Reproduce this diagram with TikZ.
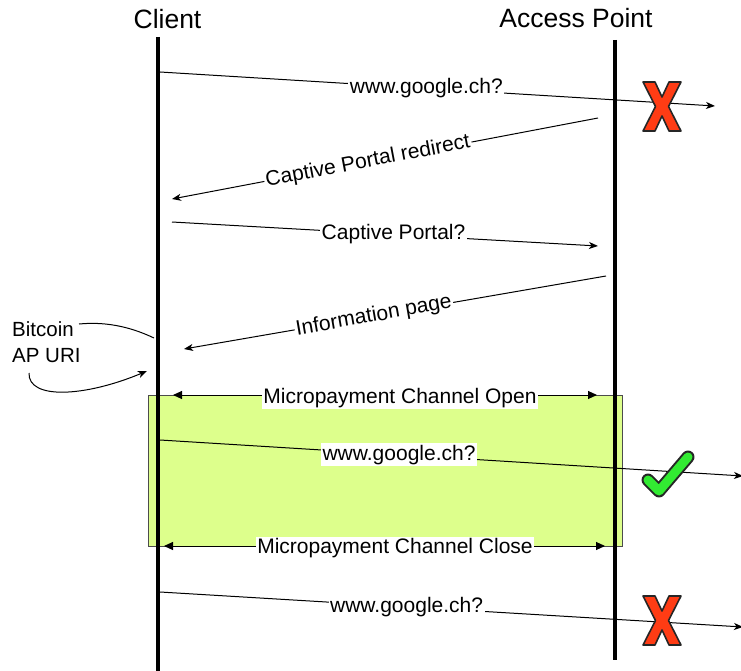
\documentclass[tikz,border=0pt]{standalone}
\usepackage{fontspec}
\setmainfont{Liberation Sans}
\usetikzlibrary{arrows.meta}
\definecolor{boxgreen}{RGB}{221,255,140}
\definecolor{xred}{RGB}{255,60,20}
\definecolor{ckgreen}{RGB}{50,235,50}
\begin{document}
\begin{tikzpicture}[x=1pt,y=-1pt,
  msg/.style={line width=1pt, -{Stealth[length=9pt,width=7pt,inset=2.5pt]}},
  lbl/.style={fill=white, inner sep=1.5pt, font=\fontsize{21}{24}\selectfont},
  head/.style={font=\fontsize{26.5}{30}\selectfont, inner sep=0pt, anchor=base},
  life/.style={line width=4pt},
  pay/.style={line width=1pt, {Triangle[length=9pt,width=8pt]}-{Triangle[length=9pt,width=8pt]}},
  note/.style={font=\fontsize{20.5}{24}\selectfont, inner sep=0pt, anchor=base west},
  redx/.pic={
    \fill[xred, draw=black!85, line width=1.6pt, line join=round]
      (0,0) -- (12,0) -- (19,15) -- (26,0) -- (38,0) -- (25.5,24.5) -- (38,49)
      -- (26,49) -- (19,34) -- (12,49) -- (0,49) -- (12.5,24.5) -- cycle;
  },
  greencheck/.pic={
    \draw[line width=13pt, black!85, line cap=round, line join=round]
      (5,29) -- (16,40) -- (45,6);
    \draw[line width=9pt, ckgreen, line cap=round, line join=round]
      (5,29) -- (16,40) -- (45,6);
  }
]
\useasboundingbox (0,0) rectangle (741,671);

% channel box
\node[fill=boxgreen, draw=black!70, line width=0.8pt, minimum width=474pt,
      minimum height=151pt, anchor=north west, inner sep=0pt] (chan) at (148,395) {};

% headings
\node[head] (client) at (167.5,29) {Client};
\node[head] (ap) at (576,28) {Access Point};

% lifelines
\coordinate (c0) at (158,37); \coordinate (c1) at (158,671);
\coordinate (a0) at (615,40); \coordinate (a1) at (615,660);
\draw[life] (c0) -- (c1);
\draw[life] (a0) -- (a1);

% messages
\coordinate (m1s) at (160,72);  \coordinate (m1e) at (715,106);
\draw[msg] (m1s) -- node[lbl,pos=0.48] (l1) {www.google.ch?} (m1e);

\coordinate (m2s) at (598,118); \coordinate (m2e) at (172,199);
\draw[msg] (m2s) -- node[lbl,pos=0.54,rotate=10.8] (l2) {Captive Portal redirect} (m2e);

\coordinate (m3s) at (172,222); \coordinate (m3e) at (598,246);
\draw[msg] (m3s) -- node[lbl,pos=0.52] (l3) {Captive Portal?} (m3e);

\coordinate (m4s) at (606,276); \coordinate (m4e) at (184,349);
\draw[msg] (m4s) -- node[lbl,pos=0.55,rotate=9.9] (l4) {Information page} (m4e);

\coordinate (p1s) at (173,395); \coordinate (p1e) at (597,395);
\draw[pay] (p1s) -- (p1e);
\node[lbl] (lp1) at (400,398) {Micropayment Channel Open};

\coordinate (m6s) at (160,440); \coordinate (m6e) at (743,476);
\draw[msg] (m6s) -- node[lbl,pos=0.41] (l6) {www.google.ch?} (m6e);

\coordinate (p2s) at (164,546); \coordinate (p2e) at (605,546);
\draw[pay] (p2s) -- (p2e);
\node[lbl] (lp2) at (395,548) {Micropayment Channel Close};

\coordinate (m8s) at (160,592); \coordinate (m8e) at (743,627);
\draw[msg] (m8s) -- node[lbl,pos=0.423] (l8) {www.google.ch?} (m8e);

% Bitcoin AP URI note
\node[note] (btc) at (12,336) {Bitcoin};
\node[note] (apuri) at (12,362) {AP URI};
\coordinate (b1s) at (79,324); \coordinate (b1e) at (154,338);
\draw[line width=1pt] (b1s) .. controls (110,321) and (135,329) .. (b1e);
\coordinate (b2s) at (29,373); \coordinate (b2e) at (147,371);
\draw[msg] (b2s) .. controls (28,400) and (85,397) .. (b2e);

% marks
\pic at (643,82) {redx};
\pic at (643,596) {redx};
\pic at (643,451) {greencheck};
\end{tikzpicture}
\end{document}
